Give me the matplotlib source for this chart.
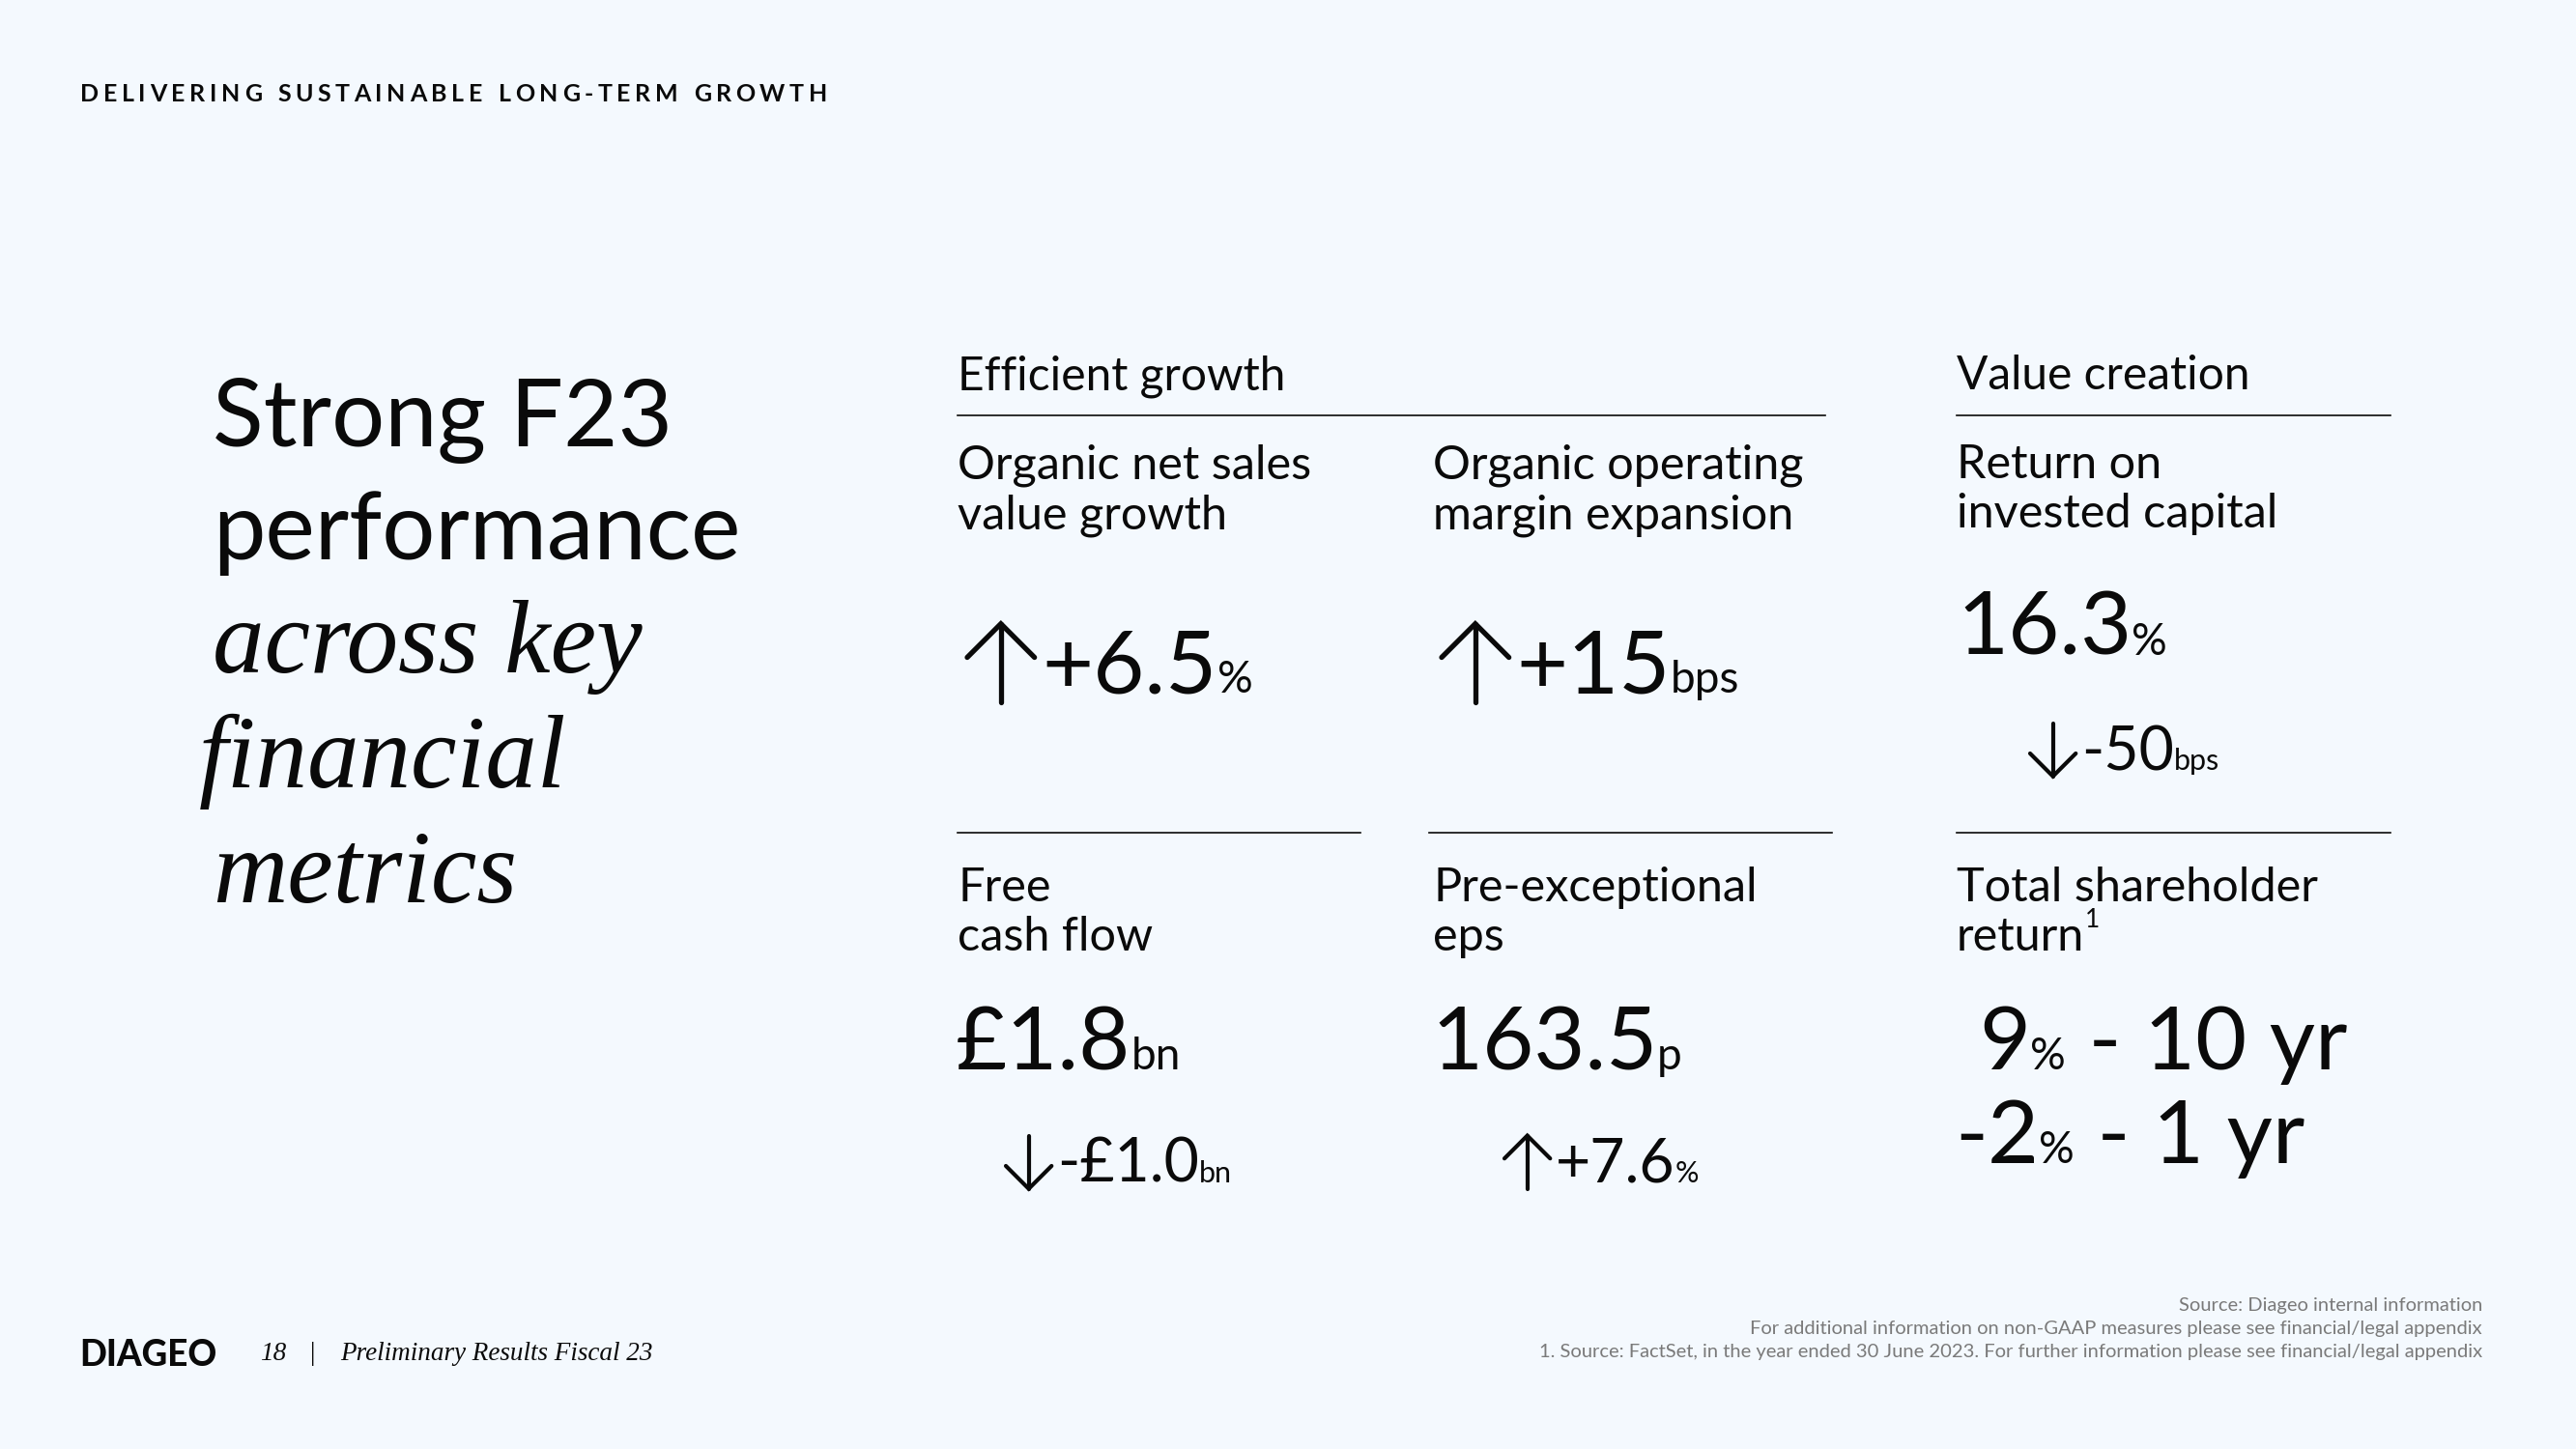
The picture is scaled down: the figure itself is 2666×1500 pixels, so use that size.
import matplotlib
matplotlib.use("Agg")
import matplotlib.pyplot as plt

# ---------- data ----------
header = "DELIVERING SUSTAINABLE LONG-TERM GROWTH"
title_upright = ["Strong F23", "performance"]
title_italic = ["across key", "financial", "metrics"]
groups = ["Efficient growth", "Value creation"]
metric_names = [
    ["Organic net sales", "value growth"],
    ["Organic operating", "margin expansion"],
    ["Return on", "invested capital"],
    ["Free", "cash flow"],
    ["Pre-exceptional", "eps"],
    ["Total shareholder", "return"],
]
metric_arrows = ["up", "up", "", "", ""]
metric_values = ["+6.5", "+15", "16.3", "£1.8", "163.5"]
metric_units = ["%", "bps", "%", "bn", "p"]
change_arrows = ["down", "down", "up"]
change_values = ["-50", "-£1.0", "+7.6"]
change_units = ["bps", "bn", "%"]
tsr_values = ["9", "-2"]
tsr_periods = ["10 yr", "1 yr"]
footer_page = "18"
footer_title = "Preliminary Results Fiscal 23"
footnotes = [
    "Source: Diageo internal information",
    "For additional information on non-GAAP measures please see financial/legal appendix",
    "1. Source: FactSet, in the year ended 30 June 2023. For further information please see financial/legal appendix",
]

# ---------- style ----------
BG = "#f4f9fe"
INK = "#0a0a0a"
GREY = "#7a7a7a"
SANS = ["Lato", "DejaVu Sans"]
SERIF_IT = ["Liberation Serif", "DejaVu Serif"]

W, H = 2666, 1500
fig = plt.figure(figsize=(W / 100, H / 100), dpi=100, facecolor=BG)
ax = fig.add_axes([0, 0, 1, 1])
ax.set_xlim(0, W)
ax.set_ylim(H, 0)
ax.axis("off")
fig.canvas.draw()
renderer = fig.canvas.get_renderer()


def arrow(x, base, h, direction, lw):
    # thin stem with an open chevron head, sized from the text height
    w = 0.86 * h
    cx = x + w / 2
    top, bot = base - 0.88 * h, base + 0.12 * h
    if direction == "up":
        tip, tail, s = top, bot, 1
    else:
        tip, tail, s = bot, top, -1
    kw = dict(color=INK, lw=lw, solid_capstyle="round", solid_joinstyle="miter")
    ax.plot([cx, cx], [tip, tail], **kw)
    ax.plot([x, cx, x + w], [tip + s * w / 2, tip, tip + s * w / 2], **kw)
    return x + w


def run(x, y, parts):
    """lay out text pieces on a common baseline: (text, size)"""
    cur = x
    for s, size in parts:
        t = ax.text(cur, y, s, fontsize=size, family=SANS, va="baseline",
                    ha="left", color=INK)
        cur += t.get_window_extent(renderer).width
    return cur


def tracked(x, y, s, size, spacing, **kw):
    cur = x
    for ch in s:
        if ch == " ":
            cur += size * 0.4 + spacing
            continue
        t = ax.text(cur, y, ch, fontsize=size, va="baseline", ha="left", **kw)
        cur += t.get_window_extent(renderer).width + spacing


# header
tracked(83, 105, header, 18, 4.6, family=SANS, weight="bold", color=INK)

# left title
for i, line in enumerate(title_upright):
    ax.text(220, 462 + i * 117, line, fontsize=70, family=SANS, va="baseline", color=INK)
for i, line in enumerate(title_italic):
    ax.text(220 - (14 if line.startswith("f") else 0), 696 + i * 119, line, fontsize=77,
            family=SERIF_IT, style="italic", va="baseline", color=INK)

# group headers and rules
ax.text(991, 403, groups[0], fontsize=34.5, family=SANS, va="baseline", color=INK)
ax.text(2025, 403, groups[1], fontsize=34.5, family=SANS, va="baseline", color=INK)
ax.plot([991, 1889], [430, 430], color=INK, lw=1.2)
ax.plot([2025, 2474], [430, 430], color=INK, lw=1.2)
for x0, x1 in [(991, 1408), (1479, 1896), (2025, 2474)]:
    ax.plot([x0, x1], [862, 862], color=INK, lw=1.2)

# metric names
cols = [991, 1483, 2025]
name_pos = [(cols[0], 496), (cols[1], 496), (cols[2], 495),
            (cols[0], 933), (cols[1], 933), (cols[2], 933)]
for (x, y), lines in zip(name_pos, metric_names):
    for j, line in enumerate(lines):
        ax.text(x, y + j * 51, line, fontsize=35, family=SANS, va="baseline", color=INK)
# footnote marker on "return"
rb = ax.texts[-1].get_window_extent(renderer)
ax.text(2025 + rb.width + 1, 984 - 24, "1", fontsize=19, family=SANS, va="baseline", color=INK)

# headline values
val_pos = [(1001, 717), (1492, 717), (2025, 678), (989, 1107), (1481, 1107)]
for (x, y), arr, v, u in zip(val_pos, metric_arrows, metric_values, metric_units):
    if arr:
        x = arrow(x, y, 81, arr, 3.8) + 8
    run(x, y, [(v, 66), (u, 33)])

# changes vs prior year
chg_pos = [(2101, 797), (1041, 1224), (1557, 1224)]
for (x, y), arr, v, u in zip(chg_pos, change_arrows, change_values, change_units):
    x = arrow(x, y, 55, arr, 3.0) + 6
    run(x, y, [(v, 45), (u, 22)])

# total shareholder return
tsr_pos = [(2048, 1107), (2023, 1204)]
for (x, y), v, p in zip(tsr_pos, tsr_values, tsr_periods):
    run(x, y, [(v, 66), ("%", 33), (" - " + p, 66)])

# footer
ax.text(82, 1414, "DIAGEO", fontsize=26.5, family=SANS, weight="black", va="baseline", color=INK)
ax.text(269, 1408, footer_page, fontsize=19.5, family=SERIF_IT, style="italic", va="baseline", color=INK)
ax.text(321, 1408, "|", fontsize=19.5, family=SERIF_IT, va="baseline", color=INK)
ax.text(352, 1408, footer_title, fontsize=19.5, family=SERIF_IT, style="italic", va="baseline", color=INK)
for i, note in enumerate(footnotes):
    ax.text(2569, 1357 + i * 24, note, fontsize=14.5, family=SANS,
            ha="right", va="baseline", color=GREY)

fig.savefig("out.png", dpi=100, facecolor=BG)
